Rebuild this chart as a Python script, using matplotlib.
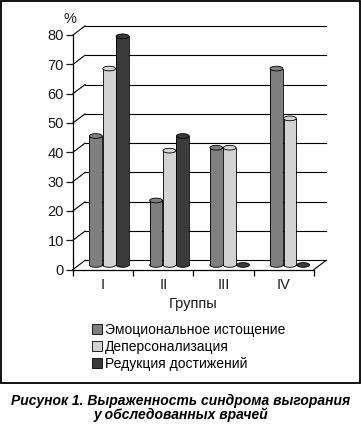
# -*- coding: utf-8 -*-
# Выраженность синдрома выгорания у обследованных врачей (псевдо-3D цилиндры)

import numpy as np
import matplotlib
matplotlib.use("Agg")
import matplotlib.pyplot as plt
from matplotlib.patches import Ellipse, Rectangle, Patch

plt.rcParams['font.family'] = ['Liberation Sans', 'DejaVu Sans']

# =============================================================================
# ДАННЫЕ
# =============================================================================
groups = ['I', 'II', 'III', 'IV']
series_names = ['Эмоциональное истощение', 'Деперсонализация', 'Редукция достижений']
emotional = [44, 22, 40, 67]
depersonal = [67, 39, 40, 50]
reduction = [78, 44, 0, 0]
yticks = [0, 10, 20, 30, 40, 50, 60, 70, 80]

colors = ['#7f7f7f', '#d3d3d3', '#3b3b3b']
values = [emotional, depersonal, reduction]

# глубина "3D" коробки в единицах данных
DX = 0.2
DY = 3.1
BAR_W = 0.212
BAR_STEP = 0.222
ELL_H = 1.6

# =============================================================================
# ФИГУРА
# =============================================================================
fig = plt.figure(figsize=(3.61, 4.24), dpi=100)
ax = fig.add_axes([73 / 361, (424 - 269.5) / 424, 241 / 361, 234.5 / 424])
ax.set_xlim(0, len(groups))
ax.set_ylim(0, 80)

# стенки: линии сетки на задней стенке и диагонали боковой стенки
for v in yticks:
    ax.plot([DX, len(groups) + DX], [v + DY, v + DY], color='black', lw=0.8, clip_on=False, zorder=1)
    ax.plot([0, DX], [v, v + DY], color='black', lw=0.8, clip_on=False, zorder=1)
# правый край пола
ax.plot([len(groups), len(groups) + DX], [0, DY], color='black', lw=0.8, clip_on=False, zorder=1)


def cylinder(x, v, color, z):
    xc = x + DX / 2
    y0 = DY / 2
    ax.add_patch(Ellipse((xc, y0), BAR_W, ELL_H, facecolor=color, edgecolor='black',
                         lw=0.6, clip_on=False, zorder=z))
    if v > 0:
        ax.add_patch(Rectangle((xc - BAR_W / 2, y0), BAR_W, v, facecolor=color,
                               edgecolor='none', clip_on=False, zorder=z + 0.1))
        ax.plot([xc - BAR_W / 2] * 2, [y0, y0 + v], color='black', lw=0.6, clip_on=False, zorder=z + 0.2)
        ax.plot([xc + BAR_W / 2] * 2, [y0, y0 + v], color='black', lw=0.6, clip_on=False, zorder=z + 0.2)
        ax.add_patch(Ellipse((xc, y0 + v), BAR_W, ELL_H, facecolor=color, edgecolor='black',
                             lw=0.6, clip_on=False, zorder=z + 0.3))


for g in range(len(groups)):
    for k in range(3):
        x = g + 0.5 + (k - 1) * BAR_STEP
        cylinder(x, values[k][g], colors[k], 3 + k)

# оси
for s in ['top', 'right']:
    ax.spines[s].set_visible(False)
ax.spines['left'].set_linewidth(0.9)
ax.spines['bottom'].set_linewidth(0.9)
ax.set_yticks(yticks)
ax.tick_params(axis='y', direction='out', length=5, width=0.9, pad=1.5,
               labelsize=10.5, colors='#1a1a1a')
ax.set_xticks(np.arange(len(groups) + 1))
ax.set_xticklabels([])
ax.tick_params(axis='x', which='major', direction='out', length=4, width=0.9)
ax.set_xticks(np.arange(len(groups)) + 0.5, minor=True)
ax.set_xticklabels(groups, minor=True, fontsize=10.5, color='#1a1a1a')
ax.tick_params(axis='x', which='minor', length=0, pad=6)
ax.patch.set_visible(False)

ax.set_xlabel('Группы', fontsize=10.5, color='#1a1a1a', labelpad=4)
fig.text(70 / 361, 1 - 19 / 424, '%', fontsize=10.5, ha='center', va='center', color='#1a1a1a')

# легенда
handles = [Patch(facecolor=c, edgecolor='black', lw=0.6) for c in colors]
fig.legend(handles, series_names, loc='upper left', bbox_to_anchor=(92 / 361, 1 - 323 / 424),
           frameon=False, fontsize=10, handlelength=0.7, handleheight=0.7,
           handletextpad=0.25, labelspacing=0.2, borderpad=0, borderaxespad=0)

# рамка вокруг диаграммы
fig.add_artist(Rectangle((0.5 / 361, 1 - 383 / 424), 359.5 / 361, 382.5 / 424,
                         transform=fig.transFigure, fill=False, edgecolor='black', lw=1.3))

# подпись
fig.text(0.5, 1 - 401 / 424, 'Рисунок 1. Выраженность синдрома выгорания',
         fontsize=10, fontweight='bold', fontstyle='italic', ha='center', va='center')
fig.text(0.5, 1 - 415 / 424, 'у обследованных врачей',
         fontsize=10, fontweight='bold', fontstyle='italic', ha='center', va='center')

fig.savefig('out.png', dpi=100)
